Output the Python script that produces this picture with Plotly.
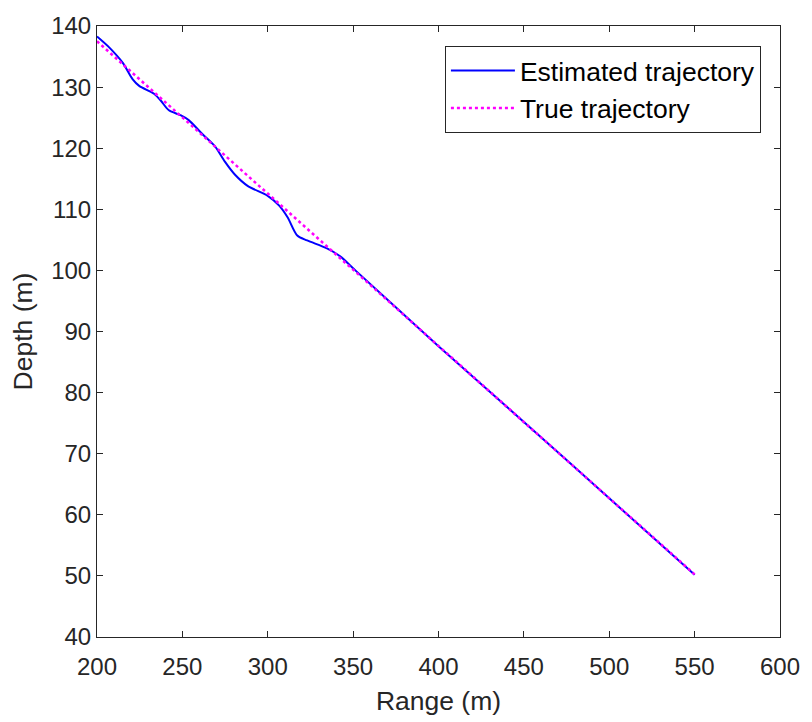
import plotly.graph_objects as go

est_range = [200.0, 206.4, 215.0, 220.8, 224.7, 233.4, 237.3, 242.1, 248.9, 253.7,
             261.4, 269.1, 274.9, 280.7, 288.4, 300.0, 306.7, 311.6, 317.3, 323.1,
             334.7, 342.4, 352.1, 400.0, 450.0, 500.0, 550.0]
est_depth = [138.3, 136.7, 134.0, 131.3, 130.2, 128.9, 127.8, 126.2, 125.4, 124.6,
             122.4, 120.3, 117.8, 115.7, 113.8, 112.2, 110.6, 108.7, 105.7, 104.9,
             103.6, 102.3, 99.8, 87.6, 75.2, 62.7, 50.2]

true_range = [200.0, 550.0]
true_depth = [137.5, 50.25]

x_ticks = [200, 250, 300, 350, 400, 450, 500, 550, 600]
y_ticks = [40, 50, 60, 70, 80, 90, 100, 110, 120, 130, 140]

FONT = "Liberation Sans, Arial, sans-serif"
AX = "#262626"

fig = go.Figure()
fig.add_trace(go.Scatter(x=est_range, y=est_depth, mode="lines",
                         name="Estimated trajectory",
                         line=dict(color="#0000FF", width=2, shape="spline", smoothing=0.8)))
fig.add_trace(go.Scatter(x=true_range, y=true_depth, mode="lines",
                         name="True trajectory",
                         line=dict(color="#FF00FF", width=2.5, dash="dot")))

axis_common = dict(showgrid=False, zeroline=False, showline=True, linecolor=AX, linewidth=1,
                   mirror="ticks", ticks="inside", ticklen=6, tickcolor=AX, tickwidth=1,
                   tickfont=dict(family=FONT, size=24, color=AX))

fig.update_xaxes(range=[200, 600], tickvals=x_ticks, ticklabelstandoff=8,
                 title=dict(text="Range (m)", font=dict(family=FONT, size=26.5, color=AX), standoff=12),
                 **axis_common)
fig.update_yaxes(range=[40, 140], tickvals=y_ticks,
                 title=dict(text="Depth (m)", font=dict(family=FONT, size=26.5, color=AX), standoff=10),
                 **axis_common)

fig.update_layout(
    width=812, height=722,
    margin=dict(l=97, r=24, t=19, b=83),
    paper_bgcolor="white", plot_bgcolor="white",
    font=dict(family=FONT, color=AX),
    legend=dict(x=0.5094, y=0.9677, xanchor="left", yanchor="top",
                bgcolor="white", bordercolor=AX, borderwidth=1,
                font=dict(family=FONT, size=26.5, color="black"),
                tracegroupgap=0, itemwidth=64),
    showlegend=True,
)

fig.write_html("out.html")
